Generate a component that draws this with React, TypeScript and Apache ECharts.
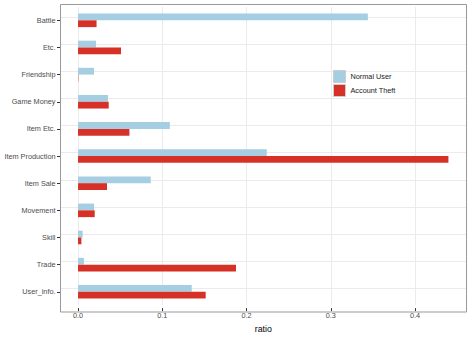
import React, { useEffect, useRef } from "react";
import * as echarts from "echarts";

const categories = [
  "Battle",
  "Etc.",
  "Friendship",
  "Game Money",
  "Item Etc.",
  "Item Production",
  "Item Sale",
  "Movement",
  "Skill",
  "Trade",
  "User_info.",
];
const normalUser = [0.344, 0.0214, 0.019, 0.0356, 0.109, 0.224, 0.0863, 0.019, 0.0055, 0.007, 0.135];
const accountTheft = [0.022, 0.051, 0.0004, 0.0364, 0.061, 0.4396, 0.0344, 0.0198, 0.004, 0.1875, 0.1515];
const xTickValues = [0, 0.1, 0.2, 0.3, 0.4];
const xMin = -0.0214;
const xMax = 0.4613;

export default function App() {
  const ref = useRef<HTMLDivElement>(null);
  useEffect(() => {
    if (!ref.current) return;
    const chart = echarts.init(ref.current, null, { renderer: "svg" });
    const font = "Liberation Sans, Arial, Helvetica, sans-serif";
    chart.setOption({
      animation: false,
      backgroundColor: "#ffffff",
      grid: { left: 60, right: 4.3, top: 6.75, bottom: 28.75, containLabel: false },
      legend: {
        data: ["Normal User", "Account Theft"],
        orient: "vertical",
        left: 333,
        top: 70,
        itemWidth: 12,
        itemHeight: 12,
        itemGap: 1,
        icon: "rect",
        padding: 0,
        itemStyle: { borderColor: "#cccccc", borderWidth: 1 },
        textStyle: { fontFamily: font, fontSize: 7.3, color: "#1a1a1a" },
        selectedMode: false,
      },
      xAxis: {
        type: "value",
        min: xMin,
        max: xMax,
        splitNumber: 10,
        offset: 2.75,
        name: "ratio",
        nameLocation: "middle",
        nameGap: 12.5,
        nameTextStyle: { fontFamily: font, fontSize: 8.8, color: "#000000" },
        axisLine: { show: false, onZero: false },
        axisTick: { show: true, customValues: xTickValues, length: 3, lineStyle: { color: "#333333" } },
        axisLabel: {
          customValues: xTickValues,
          formatter: (v: number) => v.toFixed(1),
          fontFamily: font,
          fontSize: 7.3,
          color: "#4d4d4d",
          margin: 4,
        },
        splitLine: { show: true, lineStyle: { color: "#ebebeb", width: 1 } },
      },
      yAxis: {
        type: "category",
        data: categories,
        inverse: true,
        axisLine: { show: false, onZero: false },
        axisTick: { show: true, alignWithLabel: true, length: 3, lineStyle: { color: "#333333" } },
        axisLabel: { fontFamily: font, fontSize: 7.3, color: "#4d4d4d", margin: 4.5 },
        splitLine: { show: false },
      },
      series: [
        {
          name: "Normal User",
          type: "bar",
          data: normalUser,
          barWidth: "25%",
          barGap: "0%",
          itemStyle: { color: "#a6cee3" },
          z: 3,
          markLine: {
            silent: true,
            symbol: "none",
            z: 1,
            label: { show: false },
            lineStyle: { color: "#ebebeb", width: 1, type: "solid" },
            data: categories.map((c) => ({ yAxis: c })),
          },
        },
        {
          name: "Account Theft",
          type: "bar",
          data: accountTheft,
          barWidth: "25%",
          barGap: "0%",
          itemStyle: { color: "#d73027" },
          z: 3,
        },
      ],
      graphic: [
        {
          type: "rect",
          shape: { x: 60.5, y: 4.5, width: 406, height: 307.5 },
          style: { fill: "none", stroke: "#999999", lineWidth: 1 },
          z: 10,
          silent: true,
        },
      ],
    });
    return () => chart.dispose();
  }, []);
  return (
    <div
      ref={ref}
      style={{ position: "fixed", left: 0, top: 0, width: 471, height: 338 }}
    />
  );
}
